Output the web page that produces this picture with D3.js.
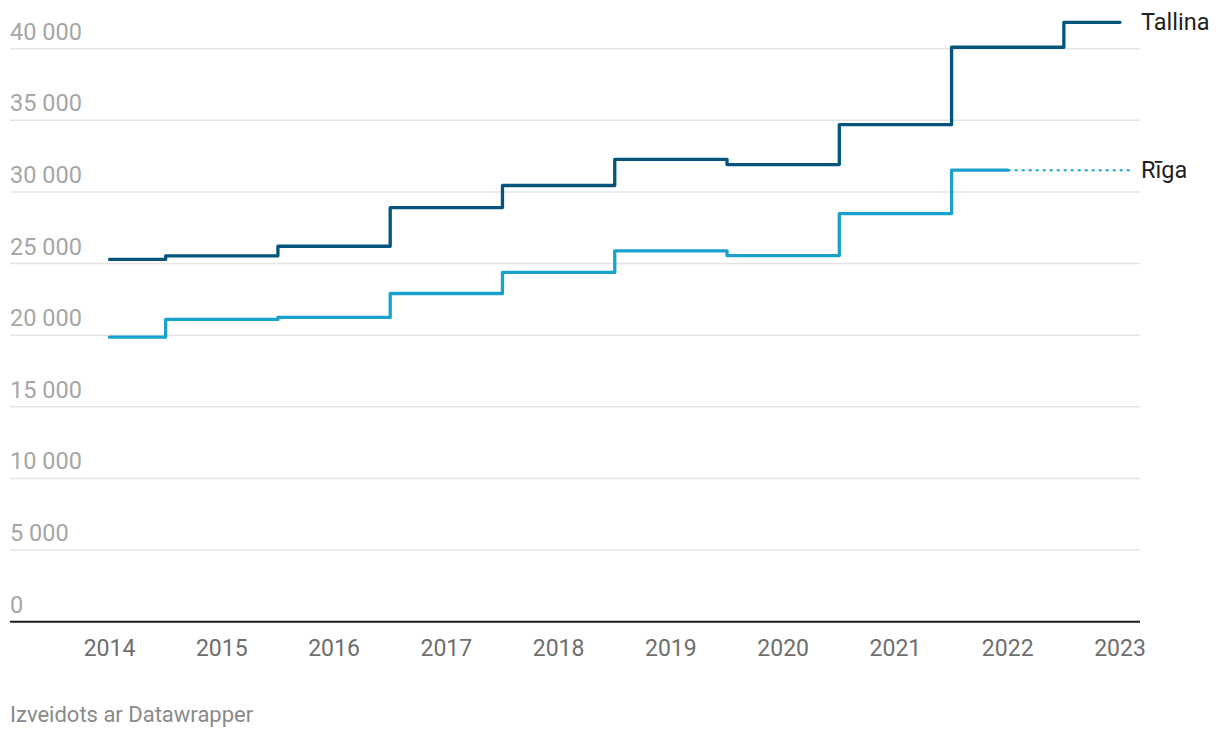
<!doctype html>
<html lang="lv">
<head>
<meta charset="utf-8">
<title>Tallina un Rīga</title>
<script src="https://cdn.jsdelivr.net/npm/d3@7"></script>
<style>
  body { margin: 0; background: #fff; font-family: Roboto, "Noto Sans", sans-serif; }
  .grid line { stroke: #e4e4e4; stroke-width: 1.5; }
  .ylab { fill: #a6a6a6; font-size: 23.5px; }
  .xlab { fill: #6e6e6e; font-size: 23px; }
</style>
</head>
<body>
<div id="chart"></div>
<script>
// data
var years = [2014, 2015, 2016, 2017, 2018, 2019, 2020, 2021, 2022, 2023];
var tallina = [25290, 25540, 26210, 28910, 30450, 32280, 31910, 34700, 40100, 41840];
var riga = [19860, 21100, 21240, 22910, 24380, 25880, 25560, 28490, 31520];
var yTicks = [0, 5000, 10000, 15000, 20000, 25000, 30000, 35000, 40000];

var W = 1220, H = 738;
var svg = d3.select("#chart").append("svg")
  .attr("width", W).attr("height", H);

var x = d3.scaleLinear().domain([2014, 2023]).range([109.5, 1120]);
var y = d3.scaleLinear().domain([0, 40000]).range([621.7, 48.7]);

var fmt = function (d) { return d3.format(",")(d).replace(/,/g, " "); };

// grid lines
svg.append("g").attr("class", "grid")
  .selectAll("line").data(yTicks.filter(function (d) { return d > 0; }))
  .enter().append("line")
  .attr("x1", 10).attr("x2", 1140)
  .attr("y1", function (d) { return y(d); })
  .attr("y2", function (d) { return y(d); });

// y labels sit above the lines
svg.append("g").selectAll("text").data(yTicks)
  .enter().append("text")
  .attr("class", "ylab")
  .attr("x", 10)
  .attr("y", function (d) { return y(d) - 9; })
  .text(fmt);

// baseline
svg.append("line")
  .attr("x1", 10).attr("x2", 1140)
  .attr("y1", y(0)).attr("y2", y(0))
  .attr("stroke", "#1d1d1d").attr("stroke-width", 2);

// x labels
svg.append("g").selectAll("text").data(years)
  .enter().append("text")
  .attr("class", "xlab")
  .attr("text-anchor", "middle")
  .attr("x", function (d) { return x(d); })
  .attr("y", 656)
  .text(function (d) { return d; });

var line = d3.line()
  .x(function (d) { return x(d[0]); })
  .y(function (d) { return y(d[1]); })
  .curve(d3.curveStep);

var tData = years.map(function (yr, i) { return [yr, tallina[i]]; });
var rData = riga.map(function (v, i) { return [years[i], v]; });
var rLast = rData[rData.length - 1];

// Riga dotted continuation to the label
svg.append("line")
  .attr("x1", x(rLast[0])).attr("x2", 1132)
  .attr("y1", y(rLast[1])).attr("y2", y(rLast[1]))
  .attr("stroke", "#18a1cd").attr("stroke-width", 2)
  .attr("stroke-dasharray", "3,4");

svg.append("path").datum(rData)
  .attr("d", line)
  .attr("fill", "none")
  .attr("stroke", "#18a1cd")
  .attr("stroke-width", 3.3)
  .attr("stroke-linecap", "round")
  .attr("stroke-linejoin", "round");

svg.append("path").datum(tData)
  .attr("d", line)
  .attr("fill", "none")
  .attr("stroke", "#04547c")
  .attr("stroke-width", 3.3)
  .attr("stroke-linecap", "round")
  .attr("stroke-linejoin", "round");

// series labels
svg.append("text")
  .attr("x", 1141).attr("y", y(tallina[tallina.length - 1]) + 8)
  .attr("fill", "#1f1f1f").attr("font-size", 23.5)
  .text("Tallina");

svg.append("text")
  .attr("x", 1141).attr("y", y(rLast[1]) + 8)
  .attr("fill", "#1f1f1f").attr("font-size", 23.5)
  .text("Rīga");

// footer
svg.append("text")
  .attr("x", 10).attr("y", 722)
  .attr("fill", "#8a8a8a").attr("font-size", 22)
  .text("Izveidots ar Datawrapper");
</script>
</body>
</html>
